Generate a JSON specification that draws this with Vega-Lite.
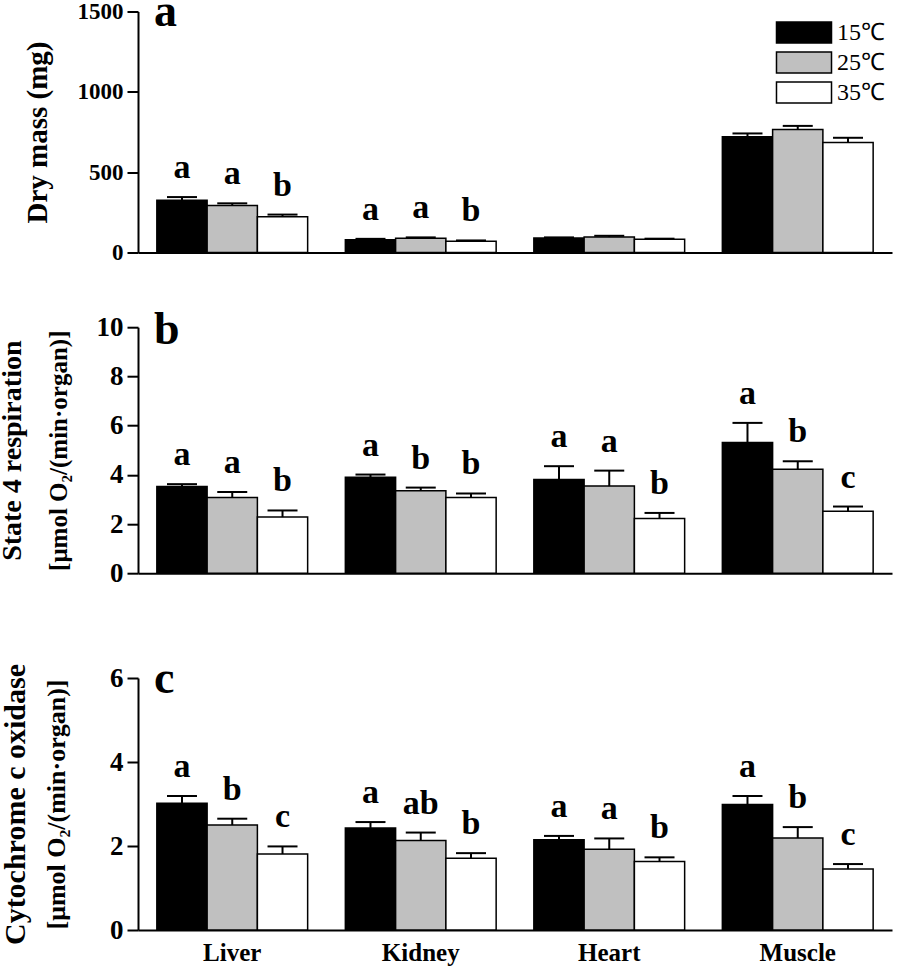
{
  "$schema": "https://vega.github.io/schema/vega-lite/v6.json",
  "padding": {"left": -2, "top": -11.5, "right": 5, "bottom": 3},
  "background": "white",
  "datasets": {
    "rows": [
      {"panel": "a", "organ": "Liver", "temp": "15℃", "mean": 325, "se": 20, "letter": "a"},
      {"panel": "a", "organ": "Liver", "temp": "25℃", "mean": 292, "se": 14, "letter": "a"},
      {"panel": "a", "organ": "Liver", "temp": "35℃", "mean": 222, "se": 14, "letter": "b"},
      {"panel": "a", "organ": "Kidney", "temp": "15℃", "mean": 80, "se": 5, "letter": "a"},
      {"panel": "a", "organ": "Kidney", "temp": "25℃", "mean": 88, "se": 6, "letter": "a"},
      {"panel": "a", "organ": "Kidney", "temp": "35℃", "mean": 70, "se": 5, "letter": "b"},
      {"panel": "a", "organ": "Heart", "temp": "15℃", "mean": 90, "se": 4, "letter": ""},
      {"panel": "a", "organ": "Heart", "temp": "25℃", "mean": 96, "se": 8, "letter": ""},
      {"panel": "a", "organ": "Heart", "temp": "35℃", "mean": 82, "se": 4, "letter": ""},
      {"panel": "a", "organ": "Muscle", "temp": "15℃", "mean": 720, "se": 21, "letter": ""},
      {"panel": "a", "organ": "Muscle", "temp": "25℃", "mean": 765, "se": 23, "letter": ""},
      {"panel": "a", "organ": "Muscle", "temp": "35℃", "mean": 685, "se": 29, "letter": ""},
      {"panel": "b", "organ": "Liver", "temp": "15℃", "mean": 3.52, "se": 0.1, "letter": "a"},
      {"panel": "b", "organ": "Liver", "temp": "25℃", "mean": 3.08, "se": 0.22, "letter": "a"},
      {"panel": "b", "organ": "Liver", "temp": "35℃", "mean": 2.28, "se": 0.27, "letter": "b"},
      {"panel": "b", "organ": "Kidney", "temp": "15℃", "mean": 3.9, "se": 0.11, "letter": "a"},
      {"panel": "b", "organ": "Kidney", "temp": "25℃", "mean": 3.35, "se": 0.13, "letter": "b"},
      {"panel": "b", "organ": "Kidney", "temp": "35℃", "mean": 3.08, "se": 0.16, "letter": "b"},
      {"panel": "b", "organ": "Heart", "temp": "15℃", "mean": 3.81, "se": 0.54, "letter": "a"},
      {"panel": "b", "organ": "Heart", "temp": "25℃", "mean": 3.54, "se": 0.63, "letter": "a"},
      {"panel": "b", "organ": "Heart", "temp": "35℃", "mean": 2.22, "se": 0.23, "letter": "b"},
      {"panel": "b", "organ": "Muscle", "temp": "15℃", "mean": 5.31, "se": 0.8, "letter": "a"},
      {"panel": "b", "organ": "Muscle", "temp": "25℃", "mean": 4.23, "se": 0.32, "letter": "b"},
      {"panel": "b", "organ": "Muscle", "temp": "35℃", "mean": 2.52, "se": 0.19, "letter": "c"},
      {"panel": "c", "organ": "Liver", "temp": "15℃", "mean": 3.02, "se": 0.17, "letter": "a"},
      {"panel": "c", "organ": "Liver", "temp": "25℃", "mean": 2.5, "se": 0.15, "letter": "b"},
      {"panel": "c", "organ": "Liver", "temp": "35℃", "mean": 1.81, "se": 0.18, "letter": "c"},
      {"panel": "c", "organ": "Kidney", "temp": "15℃", "mean": 2.43, "se": 0.14, "letter": "a"},
      {"panel": "c", "organ": "Kidney", "temp": "25℃", "mean": 2.13, "se": 0.19, "letter": "ab"},
      {"panel": "c", "organ": "Kidney", "temp": "35℃", "mean": 1.71, "se": 0.12, "letter": "b"},
      {"panel": "c", "organ": "Heart", "temp": "15℃", "mean": 2.15, "se": 0.09, "letter": "a"},
      {"panel": "c", "organ": "Heart", "temp": "25℃", "mean": 1.92, "se": 0.26, "letter": "a"},
      {"panel": "c", "organ": "Heart", "temp": "35℃", "mean": 1.63, "se": 0.1, "letter": "b"},
      {"panel": "c", "organ": "Muscle", "temp": "15℃", "mean": 2.99, "se": 0.2, "letter": "a"},
      {"panel": "c", "organ": "Muscle", "temp": "25℃", "mean": 2.19, "se": 0.26, "letter": "b"},
      {"panel": "c", "organ": "Muscle", "temp": "35℃", "mean": 1.45, "se": 0.12, "letter": "c"}
    ]
  },
  "resolve": {"scale": {"fill": "independent"}, "legend": {"fill": "independent"}},
  "spacing": 69.5,
  "vconcat": [
    {
      "resolve": {"scale": {"fill": "independent"}, "legend": {"fill": "independent"}},
      "spacing": 42.7,
      "vconcat": [
        {
          "width": 754,
          "height": 241,
          "data": {"name": "rows"},
          "title": {"text": "a", "anchor": "start", "frame": "group", "offset": -35, "dx": 16, "fontSize": 46, "font": "Liberation Serif", "fontWeight": "bold", "color": "black"},
          "transform": [{"filter": "datum.panel === 'a'"}, {"calculate": "datum.mean + datum.se", "as": "hi"}],
          "encoding": {
            "x": {"field": "organ", "type": "nominal", "sort": ["Liver", "Kidney", "Heart", "Muscle"], "scale": {"paddingInner": 0.2, "paddingOuter": 0.1}, "axis": {"labels": false, "ticks": false, "title": null}},
            "xOffset": {"field": "temp", "type": "nominal", "sort": ["15℃", "25℃", "35℃"], "scale": {"paddingInner": 0, "paddingOuter": 0}}
          },
          "layer": [
            {
              "mark": {"type": "bar", "stroke": "black", "strokeWidth": 1.5},
              "encoding": {
                "y": {"field": "mean", "type": "quantitative", "scale": {"domain": [0, 1500], "nice": false}, "axis": {"values": [0, 500, 1000, 1500], "format": "d", "labelFontSize": 23, "title": "Dry mass (mg)", "titleFontSize": 29, "titlePadding": 25}},
                "fill": {"field": "temp", "type": "nominal", "sort": ["15℃", "25℃", "35℃"], "scale": {"domain": ["15℃", "25℃", "35℃"], "range": ["#000000", "#c0c0c0", "#ffffff"]},
                  "legend": {"orient": "none", "legendX": 654, "legendY": 9, "title": null, "symbolType": "M-2.62,-1L2.62,-1L2.62,1L-2.62,1Z", "symbolSize": 441, "symbolStrokeColor": "black", "symbolStrokeWidth": 1.5, "symbolOpacity": 1, "labelFontSize": 24, "labelFont": "Liberation Serif", "labelFontWeight": "normal", "labelColor": "black", "labelOffset": 21, "rowPadding": 2, "padding": 0}}
              }
            },
            {
              "mark": {"type": "rule", "strokeWidth": 2, "color": "black"},
              "encoding": {"y": {"field": "mean", "type": "quantitative", "title": "Dry mass (mg)"}, "y2": {"field": "hi"}}
            },
            {
              "mark": {"type": "tick", "thickness": 2, "size": 30, "color": "black", "orient": "horizontal", "opacity": 1},
              "encoding": {"y": {"field": "hi", "type": "quantitative", "title": "Dry mass (mg)"}}
            },
            {
              "mark": {"type": "text", "dy": -19, "baseline": "alphabetic", "fontSize": 34, "fontWeight": "bold", "font": "Liberation Serif", "color": "black"},
              "encoding": {"y": {"field": "hi", "type": "quantitative", "title": "Dry mass (mg)"}, "text": {"field": "letter"}}
            }
          ]
        },
        {
          "width": 754,
          "height": 246,
          "data": {"name": "rows"},
          "title": {"text": "b", "anchor": "start", "frame": "group", "offset": -41, "dx": 16, "fontSize": 46, "font": "Liberation Serif", "fontWeight": "bold", "color": "black"},
          "transform": [{"filter": "datum.panel === 'b'"}, {"calculate": "datum.mean + datum.se", "as": "hi"}],
          "resolve": {"axis": {"y": "independent"}},
          "encoding": {
            "x": {"field": "organ", "type": "nominal", "sort": ["Liver", "Kidney", "Heart", "Muscle"], "scale": {"paddingInner": 0.2, "paddingOuter": 0.1}, "axis": {"labels": false, "ticks": false, "title": null}},
            "xOffset": {"field": "temp", "type": "nominal", "sort": ["15℃", "25℃", "35℃"], "scale": {"paddingInner": 0, "paddingOuter": 0}}
          },
          "layer": [
            {
              "mark": {"type": "bar", "stroke": "black", "strokeWidth": 1.5},
              "encoding": {
                "y": {"field": "mean", "type": "quantitative", "scale": {"domain": [0, 10], "nice": false}, "axis": {"orient": "left", "values": [0, 2, 4, 6, 8, 10], "labelFontSize": 27, "title": "[μmol O₂/(min·organ)]", "titleFontSize": 25, "titlePadding": 25}},
                "fill": {"field": "temp", "type": "nominal", "sort": ["15℃", "25℃", "35℃"], "scale": {"domain": ["15℃", "25℃", "35℃"], "range": ["#000000", "#c0c0c0", "#ffffff"]}, "legend": null}
              }
            },
            {
              "mark": {"type": "rule", "strokeWidth": 2, "color": "black"},
              "encoding": {"y": {"field": "mean", "type": "quantitative", "axis": {"orient": "left", "labels": false, "ticks": false, "domain": false, "title": "State 4 respiration", "titleFontSize": 28, "titlePadding": 112}}, "y2": {"field": "hi"}}
            },
            {
              "mark": {"type": "tick", "thickness": 2, "size": 30, "color": "black", "orient": "horizontal", "opacity": 1},
              "encoding": {"y": {"field": "hi", "type": "quantitative", "axis": null}}
            },
            {
              "mark": {"type": "text", "dy": -19, "baseline": "alphabetic", "fontSize": 34, "fontWeight": "bold", "font": "Liberation Serif", "color": "black"},
              "encoding": {"y": {"field": "hi", "type": "quantitative", "axis": null}, "text": {"field": "letter"}}
            }
          ]
        }
      ]
    },
    {
      "width": 754,
      "height": 252,
      "data": {"name": "rows"},
      "title": {"text": "c", "anchor": "start", "frame": "group", "offset": -40, "dx": 16, "fontSize": 46, "font": "Liberation Serif", "fontWeight": "bold", "color": "black"},
      "transform": [{"filter": "datum.panel === 'c'"}, {"calculate": "datum.mean + datum.se", "as": "hi"}],
      "resolve": {"axis": {"y": "independent"}},
      "encoding": {
        "x": {"field": "organ", "type": "nominal", "sort": ["Liver", "Kidney", "Heart", "Muscle"], "scale": {"paddingInner": 0.2, "paddingOuter": 0.1}, "axis": {"ticks": false, "title": null, "labelAngle": 0, "labelPadding": 10, "labelFontSize": 25}},
        "xOffset": {"field": "temp", "type": "nominal", "sort": ["15℃", "25℃", "35℃"], "scale": {"paddingInner": 0, "paddingOuter": 0}}
      },
      "layer": [
        {
          "mark": {"type": "bar", "stroke": "black", "strokeWidth": 1.5},
          "encoding": {
            "y": {"field": "mean", "type": "quantitative", "scale": {"domain": [0, 6], "nice": false}, "axis": {"orient": "left", "values": [0, 2, 4, 6], "labelFontSize": 27, "title": "[μmol O₂/(min·organ)]", "titleFontSize": 26, "titlePadding": 40}},
            "fill": {"field": "temp", "type": "nominal", "sort": ["15℃", "25℃", "35℃"], "scale": {"domain": ["15℃", "25℃", "35℃"], "range": ["#000000", "#c0c0c0", "#ffffff"]}, "legend": null}
          }
        },
        {
          "mark": {"type": "rule", "strokeWidth": 2, "color": "black"},
          "encoding": {"y": {"field": "mean", "type": "quantitative", "axis": {"orient": "left", "labels": false, "ticks": false, "domain": false, "title": "Cytochrome c oxidase", "titleFontSize": 30, "titlePadding": 108}}, "y2": {"field": "hi"}}
        },
        {
          "mark": {"type": "tick", "thickness": 2, "size": 30, "color": "black", "orient": "horizontal", "opacity": 1},
          "encoding": {"y": {"field": "hi", "type": "quantitative", "axis": null}}
        },
        {
          "mark": {"type": "text", "dy": -19, "baseline": "alphabetic", "fontSize": 34, "fontWeight": "bold", "font": "Liberation Serif", "color": "black"},
          "encoding": {"y": {"field": "hi", "type": "quantitative", "axis": null}, "text": {"field": "letter"}}
        }
      ]
    }
  ],
  "config": {
    "font": "Liberation Serif",
    "view": {"stroke": null},
    "axis": {"domainColor": "black", "domainWidth": 2, "tickColor": "black", "tickWidth": 2, "tickSize": 11, "labelFont": "Liberation Serif", "labelFontSize": 25, "labelFontWeight": "bold", "labelColor": "black", "labelPadding": 4, "titleFont": "Liberation Serif", "titleFontSize": 28, "titleFontWeight": "bold", "titleColor": "black", "grid": false}
  }
}
